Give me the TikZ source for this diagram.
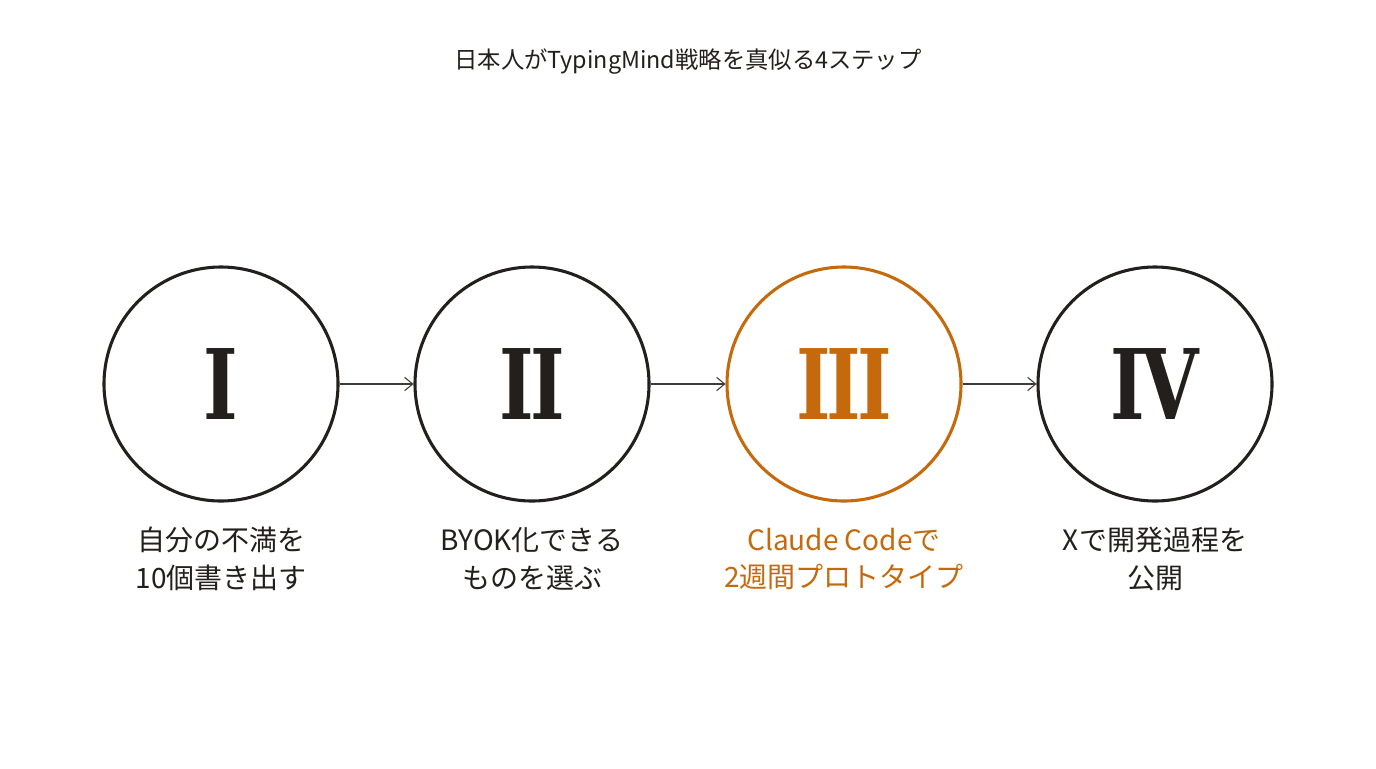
\documentclass[tikz,border=0pt]{standalone}
\usepackage{fontspec}
\usetikzlibrary{arrows.meta}
\setmainfont{Noto Sans CJK JP}
\newfontfamily\numfont{DejaVu Serif}
\definecolor{ink}{HTML}{231F1C}
\definecolor{accent}{HTML}{C46A0C}
\definecolor{arr}{HTML}{3C3C3C}
\tikzset{
  stepcircle/.style={circle, draw=ink, line width=2.3pt, minimum size=175.5pt, inner sep=0pt, text=ink,
    font=\numfont\bfseries\fontsize{73}{73}\selectfont},
  hot/.style={draw=accent, text=accent},
  steplabel/.style={align=center, text=ink, font=\fontsize{21}{28}\selectfont},
  flow/.style={draw=arr, line width=0.8pt, -{Straight Barb[length=6pt,width=10pt,line width=0.8pt]}}
}
\newcommand{\narrow}[1]{\scalebox{0.76}[1]{#1}}
\begin{document}
\begin{tikzpicture}[x=0.75pt,y=-0.75pt]
\useasboundingbox[fill=white] (0,0) rectangle (1376,768);
\node[text=ink, font=\fontsize{17.5}{20}\selectfont] (title) at (688,62) {日本人がTypingMind戦略を真似る4ステップ};
\node[stepcircle] (s1) at (221,384) {\narrow{I}};
\node[stepcircle] (s2) at (532,384) {\narrow{I\kern-0.055em I}};
\node[stepcircle,hot] (s3) at (844,384) {\narrow{I\kern-0.055em I\kern-0.055em I}};
\node[stepcircle] (s4) at (1155,384) {\narrow{I\kern-0.05em V}};
\draw[flow] (s1) -- (s2);
\draw[flow] (s2) -- (s3);
\draw[flow] (s3) -- (s4);
\node[steplabel] (l1) at (221,559) {自分の不満を\\10個書き出す};
\node[steplabel] (l2) at (532,559) {BYOK化できる\\ものを選ぶ};
\node[steplabel, text=accent] (l3) at (844,559) {Claude Codeで\\2週間プロトタイプ};
\node[steplabel] (l4) at (1155,559) {Xで開発過程を\\公開};
\end{tikzpicture}
\end{document}
